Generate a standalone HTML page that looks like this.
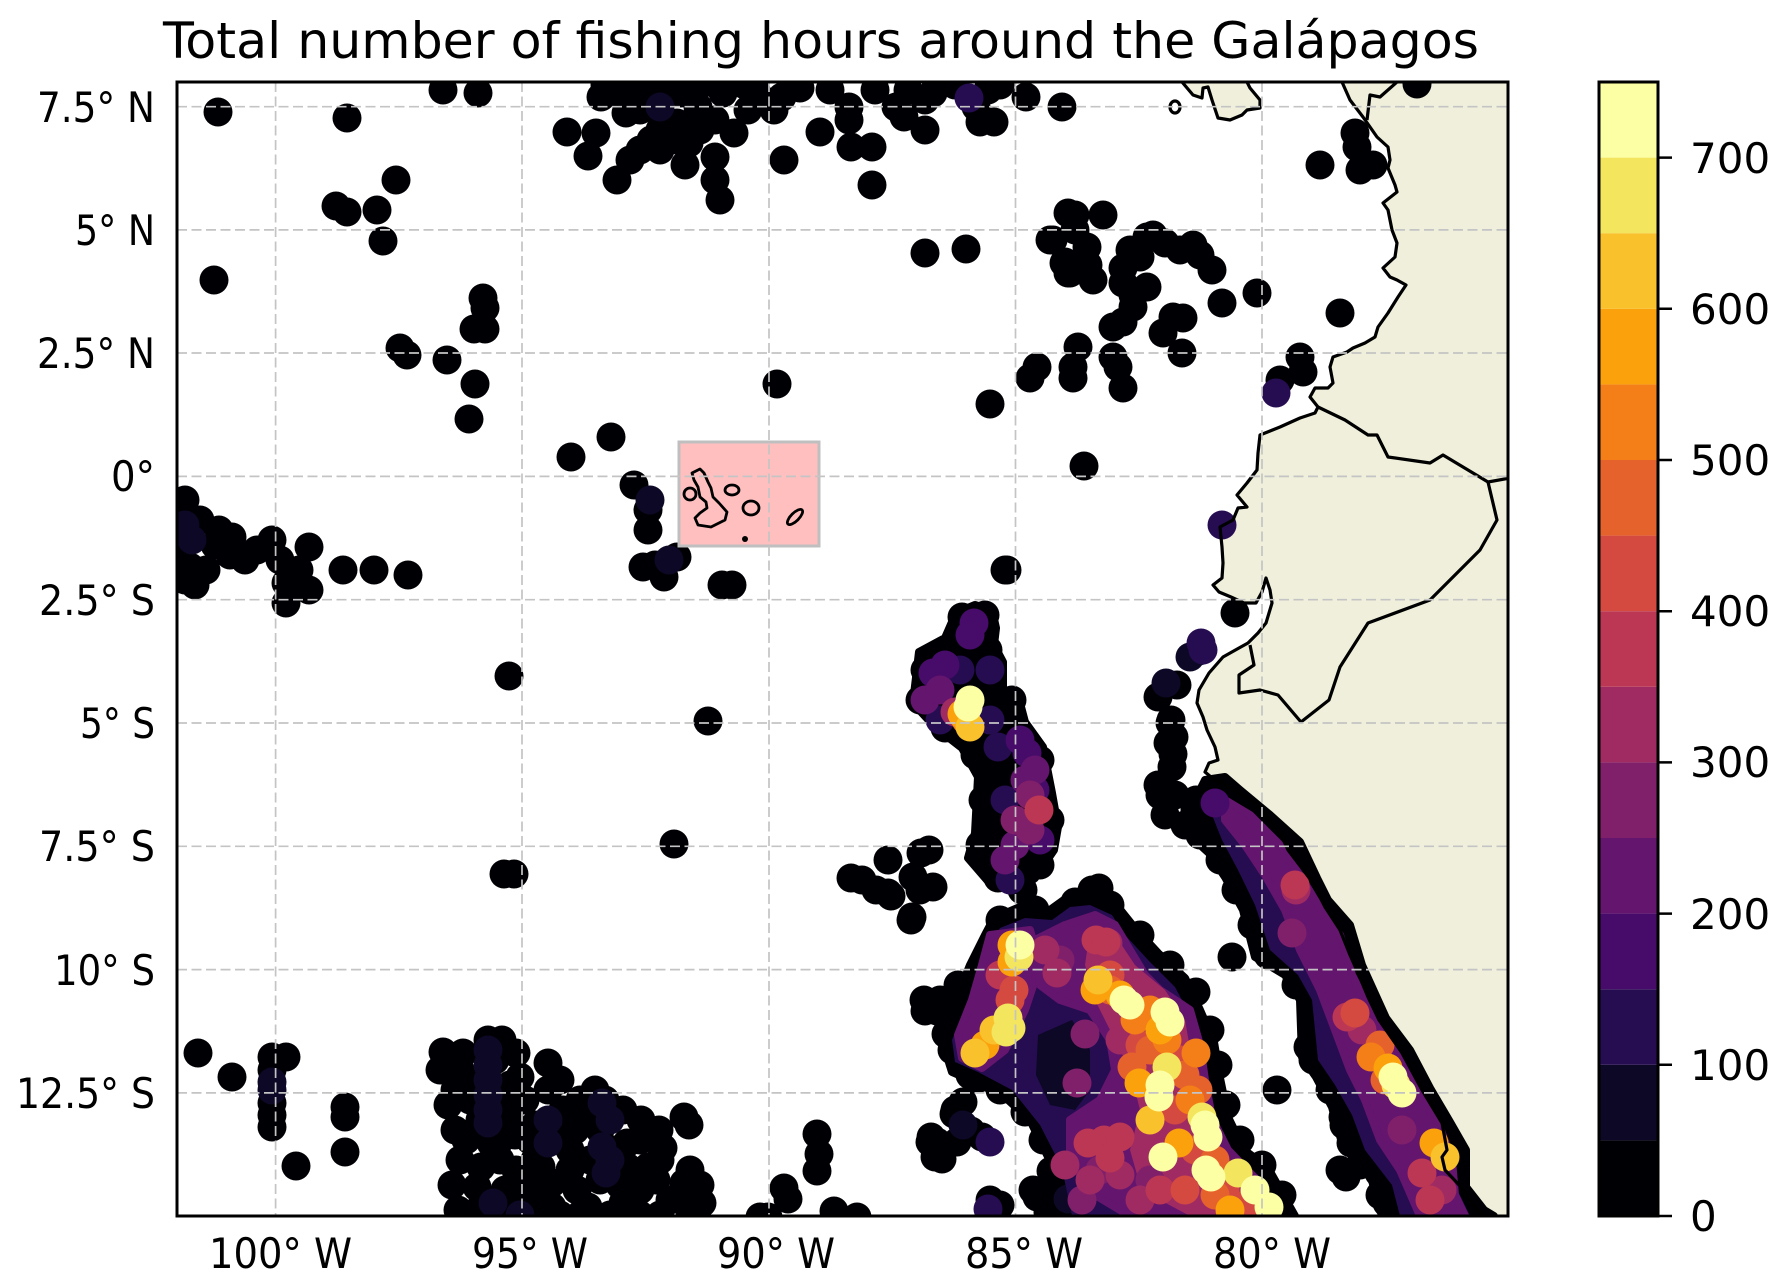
<!DOCTYPE html>
<html><head><meta charset="utf-8"><style>
html,body{margin:0;padding:0;background:#fff;}
svg{display:block;}
text{font-family:"DejaVu Sans","Liberation Sans",sans-serif;fill:#000;}
</style></head><body>
<svg width="1782" height="1286" viewBox="0 0 1782 1286" xmlns="http://www.w3.org/2000/svg">
<defs><clipPath id="ax"><rect x="177" y="82" width="1331" height="1134"/></clipPath></defs>
<rect x="0" y="0" width="1782" height="1286" fill="#fff"/>
<g clip-path="url(#ax)">
<!-- land -->
<path fill="#efefdb" d="M1342,82 L1350,100 L1363,117 L1377,137 L1388,147 L1390,160 L1388,168 L1395,185 L1397,192 L1383,203 L1388,210 L1392,230 L1397,243 L1395,257 L1383,268 L1390,277 L1397,280 L1406,285 L1398,297 L1388,313 L1378,327 L1375,337 L1365,343 L1353,348 L1347,352 L1333,357 L1330,367 L1333,383 L1328,388 L1315,388 L1310,397 L1318,407 L1315,413 L1300,418 L1280,427 L1260,435 L1258,453 L1257,470 L1247,483 L1237,495 L1247,507 L1238,508 L1233,520 L1220,527 L1222,547 L1223,563 L1222,578 L1213,585 L1219,592 L1231,597 L1244,603 L1256,603 L1262,592 L1266,578 L1270,590 L1272,603 L1266,623 L1258,633 L1248,643 L1239,648 L1223,657 L1209,673 L1199,690 L1197,703 L1203,717 L1207,730 L1215,747 L1218,760 L1209,763 L1205,772 L1211,777 L1235,790 L1256,803 L1272,823 L1282,837 L1288,850 L1301,867 L1313,883 L1325,907 L1340,930 L1350,955 L1358,973 L1368,997 L1379,1020 L1402,1053 L1422,1090 L1442,1123 L1447,1150 L1442,1157 L1445,1170 L1461,1187 L1477,1210 L1484,1216 L1508,1216 L1508,82 Z"/>
<path fill="#efefdb" d="M1182,82 L1193,95 L1202,98 L1203,88 L1208,87 L1212,100 L1218,118 L1230,120 L1242,115 L1247,110 L1260,108 L1260,100 L1250,88 L1247,82 Z"/>

<!-- blob hulls black -->
<g fill="#000004" stroke="#000004" stroke-width="8" stroke-linejoin="round">
<polygon points="994,918 1020,907 1050,910 1068,897 1090,895 1118,907 1134,927 1158,953 1185,978 1200,1010 1214,1042 1220,1078 1228,1117 1244,1150 1268,1168 1295,1216 1062,1216 1052,1165 1030,1120 1005,1097 975,1082 952,1072 942,1040 958,995 970,965 985,935"/>
<polygon points="1205,780 1225,777 1240,790 1270,815 1300,842 1317,878 1328,900 1350,925 1362,965 1386,1018 1410,1050 1430,1088 1450,1122 1466,1150 1466,1187 1484,1210 1494,1216 1382,1216 1371,1177 1342,1143 1332,1107 1316,1077 1302,1057 1300,1000 1285,975 1255,957 1243,910 1225,877 1209,853 1184,830 1192,810 1200,790"/>
<polygon points="958,612 975,605 992,610 996,628 994,645 1003,662 1003,690 1020,703 1025,722 1043,747 1052,793 1058,827 1054,850 1035,878 1015,893 987,880 968,858 975,833 978,777 962,748 935,727 913,703 919,652 945,638 952,622"/>
</g>
<!-- edge bumps -->
<g fill="#000004">
<circle cx="1196" cy="800" r="14.5"/><circle cx="1198" cy="830" r="14.5"/><circle cx="1220" cy="860" r="14.5"/><circle cx="1236" cy="890" r="14.5"/><circle cx="1252" cy="925" r="14.5"/><circle cx="1268" cy="955" r="14.5"/><circle cx="1296" cy="985" r="14.5"/><circle cx="1312" cy="1015" r="14.5"/><circle cx="1313" cy="1060" r="14.5"/><circle cx="1330" cy="1090" r="14.5"/><circle cx="1344" cy="1125" r="14.5"/><circle cx="1360" cy="1165" r="14.5"/><circle cx="1380" cy="1195" r="14.5"/>
<circle cx="958" cy="985" r="14.5"/><circle cx="952" cy="1050" r="14.5"/><circle cx="970" cy="1075" r="14.5"/><circle cx="1000" cy="1090" r="14.5"/><circle cx="1025" cy="1112" r="14.5"/><circle cx="1043" cy="1140" r="14.5"/><circle cx="1058" cy="1180" r="14.5"/><circle cx="1000" cy="920" r="14.5"/><circle cx="1035" cy="910" r="14.5"/><circle cx="1075" cy="902" r="14.5"/><circle cx="1110" cy="905" r="14.5"/><circle cx="1140" cy="935" r="14.5"/><circle cx="1170" cy="965" r="14.5"/><circle cx="1196" cy="992" r="14.5"/><circle cx="1210" cy="1030" r="14.5"/><circle cx="1218" cy="1065" r="14.5"/><circle cx="1226" cy="1105" r="14.5"/><circle cx="1240" cy="1140" r="14.5"/><circle cx="1262" cy="1165" r="14.5"/><circle cx="1282" cy="1195" r="14.5"/>
<circle cx="925" cy="670" r="14.5"/><circle cx="920" cy="700" r="14.5"/><circle cx="945" cy="728" r="14.5"/><circle cx="975" cy="755" r="14.5"/><circle cx="983" cy="800" r="14.5"/><circle cx="980" cy="845" r="14.5"/><circle cx="998" cy="878" r="14.5"/><circle cx="1040" cy="865" r="14.5"/><circle cx="1050" cy="820" r="14.5"/><circle cx="1040" cy="760" r="14.5"/><circle cx="1012" cy="700" r="14.5"/><circle cx="988" cy="650" r="14.5"/><circle cx="985" cy="615" r="14.5"/><circle cx="962" cy="617" r="14.5"/>
</g>

<!-- black dots -->
<g fill="#000004">
<circle cx="218" cy="112" r="14.5"/><circle cx="347" cy="118" r="14.5"/><circle cx="443" cy="90" r="14.5"/><circle cx="478" cy="93" r="14.5"/><circle cx="214" cy="280" r="14.5"/><circle cx="336" cy="206" r="14.5"/><circle cx="347" cy="212" r="14.5"/><circle cx="377" cy="210" r="14.5"/><circle cx="396" cy="180" r="14.5"/><circle cx="383" cy="241" r="14.5"/><circle cx="400" cy="348" r="14.5"/><circle cx="407" cy="355" r="14.5"/><circle cx="447" cy="360" r="14.5"/><circle cx="483" cy="298" r="14.5"/><circle cx="485" cy="308" r="14.5"/><circle cx="474" cy="329" r="14.5"/><circle cx="485" cy="329" r="14.5"/><circle cx="475" cy="384" r="14.5"/><circle cx="469" cy="419" r="14.5"/>
<circle cx="601" cy="97" r="14.5"/><circle cx="567" cy="132" r="14.5"/><circle cx="596" cy="133" r="14.5"/><circle cx="588" cy="156" r="14.5"/><circle cx="630" cy="160" r="14.5"/><circle cx="617" cy="180" r="14.5"/><circle cx="626" cy="113" r="14.5"/><circle cx="618" cy="93" r="14.5"/><circle cx="639" cy="90" r="14.5"/><circle cx="651" cy="140" r="14.5"/><circle cx="677" cy="123" r="14.5"/><circle cx="681" cy="93" r="14.5"/><circle cx="698" cy="107" r="14.5"/><circle cx="677" cy="140" r="14.5"/><circle cx="689" cy="143" r="14.5"/><circle cx="685" cy="165" r="14.5"/><circle cx="715" cy="157" r="14.5"/><circle cx="715" cy="180" r="14.5"/><circle cx="720" cy="200" r="14.5"/><circle cx="734" cy="133" r="14.5"/><circle cx="715" cy="120" r="14.5"/><circle cx="723" cy="93" r="14.5"/><circle cx="748" cy="110" r="14.5"/><circle cx="782" cy="97" r="14.5"/><circle cx="774" cy="110" r="14.5"/><circle cx="757" cy="93" r="14.5"/><circle cx="784" cy="160" r="14.5"/><circle cx="820" cy="132" r="14.5"/><circle cx="849" cy="107" r="14.5"/><circle cx="849" cy="120" r="14.5"/><circle cx="851" cy="147" r="14.5"/><circle cx="872" cy="147" r="14.5"/><circle cx="872" cy="185" r="14.5"/><circle cx="875" cy="90" r="14.5"/><circle cx="896" cy="107" r="14.5"/><circle cx="904" cy="117" r="14.5"/><circle cx="925" cy="130" r="14.5"/><circle cx="925" cy="100" r="14.5"/><circle cx="908" cy="90" r="14.5"/><circle cx="933" cy="93" r="14.5"/><circle cx="980" cy="122" r="14.5"/><circle cx="994" cy="122" r="14.5"/><circle cx="976" cy="107" r="14.5"/><circle cx="988" cy="90" r="14.5"/><circle cx="1026" cy="97" r="14.5"/><circle cx="1062" cy="107" r="14.5"/><circle cx="925" cy="253" r="14.5"/><circle cx="966" cy="249" r="14.5"/><circle cx="1068" cy="213" r="14.5"/><circle cx="1053" cy="240" r="14.5"/><circle cx="1064" cy="263" r="14.5"/><circle cx="1068" cy="273" r="14.5"/><circle cx="640" cy="110" r="14.5"/><circle cx="660" cy="130" r="14.5"/><circle cx="700" cy="130" r="14.5"/><circle cx="605" cy="85" r="14.5"/><circle cx="660" cy="85" r="14.5"/><circle cx="700" cy="85" r="14.5"/><circle cx="745" cy="85" r="14.5"/><circle cx="800" cy="88" r="14.5"/><circle cx="830" cy="90" r="14.5"/><circle cx="640" cy="150" r="14.5"/><circle cx="660" cy="150" r="14.5"/><circle cx="1000" cy="85" r="14.5"/><circle cx="955" cy="85" r="14.5"/>
<circle cx="1075" cy="215" r="14.5"/><circle cx="1103" cy="215" r="14.5"/><circle cx="1050" cy="240" r="14.5"/><circle cx="1065" cy="262" r="14.5"/><circle cx="1070" cy="273" r="14.5"/><circle cx="1087" cy="247" r="14.5"/><circle cx="1088" cy="265" r="14.5"/><circle cx="1093" cy="280" r="14.5"/><circle cx="1123" cy="268" r="14.5"/><circle cx="1123" cy="283" r="14.5"/><circle cx="1147" cy="237" r="14.5"/><circle cx="1153" cy="235" r="14.5"/><circle cx="1140" cy="257" r="14.5"/><circle cx="1147" cy="287" r="14.5"/><circle cx="1133" cy="307" r="14.5"/><circle cx="1123" cy="322" r="14.5"/><circle cx="1113" cy="327" r="14.5"/><circle cx="1180" cy="250" r="14.5"/><circle cx="1193" cy="245" r="14.5"/><circle cx="1200" cy="255" r="14.5"/><circle cx="1212" cy="270" r="14.5"/><circle cx="1222" cy="303" r="14.5"/><circle cx="1257" cy="293" r="14.5"/><circle cx="1340" cy="313" r="14.5"/><circle cx="1173" cy="317" r="14.5"/><circle cx="1183" cy="318" r="14.5"/><circle cx="1163" cy="333" r="14.5"/><circle cx="1182" cy="353" r="14.5"/><circle cx="1078" cy="347" r="14.5"/><circle cx="1073" cy="367" r="14.5"/><circle cx="1073" cy="378" r="14.5"/><circle cx="1037" cy="367" r="14.5"/><circle cx="1030" cy="378" r="14.5"/><circle cx="1113" cy="357" r="14.5"/><circle cx="1118" cy="367" r="14.5"/><circle cx="1123" cy="388" r="14.5"/><circle cx="1300" cy="357" r="14.5"/><circle cx="1303" cy="372" r="14.5"/><circle cx="1280" cy="380" r="14.5"/><circle cx="1084" cy="466" r="14.5"/><circle cx="1007" cy="570" r="14.5"/><circle cx="990" cy="404" r="14.5"/><circle cx="1133" cy="295" r="14.5"/><circle cx="1165" cy="243" r="14.5"/><circle cx="1130" cy="250" r="14.5"/><circle cx="1075" cy="230" r="14.5"/>
<circle cx="1320" cy="165" r="14.5"/><circle cx="1355" cy="133" r="14.5"/><circle cx="1357" cy="147" r="14.5"/><circle cx="1360" cy="170" r="14.5"/><circle cx="1373" cy="165" r="14.5"/><circle cx="1417" cy="84" r="14.5"/>
<circle cx="571" cy="457" r="14.5"/><circle cx="611" cy="437" r="14.5"/><circle cx="777" cy="384" r="14.5"/><circle cx="509" cy="676" r="14.5"/><circle cx="708" cy="721" r="14.5"/><circle cx="674" cy="844" r="14.5"/><circle cx="504" cy="874" r="14.5"/><circle cx="514" cy="874" r="14.5"/><circle cx="722" cy="585" r="14.5"/><circle cx="732" cy="585" r="14.5"/><circle cx="634" cy="485" r="14.5"/><circle cx="648" cy="510" r="14.5"/><circle cx="648" cy="530" r="14.5"/><circle cx="643" cy="567" r="14.5"/><circle cx="664" cy="577" r="14.5"/><circle cx="677" cy="557" r="14.5"/><circle cx="655" cy="565" r="14.5"/>
<circle cx="185" cy="500" r="14.5"/><circle cx="190" cy="567" r="14.5"/><circle cx="206" cy="570" r="14.5"/><circle cx="219" cy="530" r="14.5"/><circle cx="232" cy="537" r="14.5"/><circle cx="257" cy="550" r="14.5"/><circle cx="272" cy="540" r="14.5"/><circle cx="286" cy="583" r="14.5"/><circle cx="286" cy="603" r="14.5"/><circle cx="309" cy="547" r="14.5"/><circle cx="309" cy="590" r="14.5"/><circle cx="299" cy="570" r="14.5"/><circle cx="343" cy="570" r="14.5"/><circle cx="374" cy="570" r="14.5"/><circle cx="408" cy="575" r="14.5"/><circle cx="180" cy="520" r="14.5"/><circle cx="180" cy="545" r="14.5"/><circle cx="195" cy="585" r="14.5"/><circle cx="215" cy="545" r="14.5"/><circle cx="245" cy="560" r="14.5"/><circle cx="280" cy="560" r="14.5"/><circle cx="200" cy="520" r="14.5"/><circle cx="230" cy="555" r="14.5"/><circle cx="185" cy="580" r="14.5"/>
<circle cx="1005" cy="570" r="14.5"/><circle cx="888" cy="860" r="14.5"/><circle cx="921" cy="853" r="14.5"/><circle cx="929" cy="850" r="14.5"/><circle cx="913" cy="877" r="14.5"/><circle cx="933" cy="887" r="14.5"/><circle cx="888" cy="893" r="14.5"/><circle cx="911" cy="920" r="14.5"/><circle cx="851" cy="878" r="14.5"/><circle cx="862" cy="880" r="14.5"/><circle cx="876" cy="890" r="14.5"/><circle cx="891" cy="896" r="14.5"/><circle cx="1023" cy="890" r="14.5"/><circle cx="1099" cy="888" r="14.5"/>
<circle cx="1235" cy="613" r="14.5"/><circle cx="1158" cy="697" r="14.5"/><circle cx="1170" cy="723" r="14.5"/><circle cx="1168" cy="743" r="14.5"/><circle cx="1172" cy="767" r="14.5"/><circle cx="1177" cy="685" r="14.5"/><circle cx="1171" cy="720" r="14.5"/><circle cx="1174" cy="737" r="14.5"/><circle cx="1173" cy="754" r="14.5"/>
<circle cx="1160" cy="795" r="14.5"/><circle cx="1175" cy="795" r="14.5"/><circle cx="1165" cy="815" r="14.5"/><circle cx="1185" cy="825" r="14.5"/><circle cx="1195" cy="810" r="14.5"/><circle cx="1200" cy="835" r="14.5"/><circle cx="1158" cy="785" r="14.5"/>
<circle cx="912" cy="917" r="14.5"/><circle cx="924" cy="1000" r="14.5"/><circle cx="951" cy="1010" r="14.5"/><circle cx="931" cy="1137" r="14.5"/><circle cx="955" cy="1110" r="14.5"/><circle cx="982" cy="1137" r="14.5"/><circle cx="935" cy="1157" r="14.5"/><circle cx="990" cy="1200" r="14.5"/><circle cx="1033" cy="1190" r="14.5"/><circle cx="1061" cy="1193" r="14.5"/><circle cx="1096" cy="1203" r="14.5"/><circle cx="1022" cy="890" r="14.5"/><circle cx="1092" cy="890" r="14.5"/><circle cx="920" cy="890" r="14.5"/><circle cx="925" cy="1011" r="14.5"/><circle cx="937" cy="1011" r="14.5"/><circle cx="946" cy="1034" r="14.5"/><circle cx="960" cy="1062" r="14.5"/><circle cx="930" cy="1142" r="14.5"/><circle cx="937" cy="1142" r="14.5"/><circle cx="942" cy="1159" r="14.5"/><circle cx="957" cy="1142" r="14.5"/><circle cx="971" cy="1131" r="14.5"/><circle cx="1000" cy="1205" r="14.5"/><circle cx="1037" cy="1197" r="14.5"/><circle cx="1051" cy="1171" r="14.5"/><circle cx="954" cy="1114" r="14.5"/><circle cx="963" cy="1102" r="14.5"/><circle cx="1048" cy="1212" r="14.5"/><circle cx="940" cy="1000" r="14.5"/><circle cx="977" cy="1079" r="14.5"/>
<circle cx="1232" cy="957" r="14.5"/><circle cx="1277" cy="1090" r="14.5"/><circle cx="1308" cy="1047" r="14.5"/><circle cx="1343" cy="1117" r="14.5"/><circle cx="1340" cy="1170" r="14.5"/><circle cx="1351" cy="1143" r="14.5"/><circle cx="1379" cy="1173" r="14.5"/><circle cx="1387" cy="1203" r="14.5"/><circle cx="1346" cy="1177" r="14.5"/><circle cx="1391" cy="1205" r="14.5"/>
<circle cx="198" cy="1053" r="14.5"/><circle cx="232" cy="1077" r="14.5"/><circle cx="272" cy="1057" r="14.5"/><circle cx="286" cy="1057" r="14.5"/><circle cx="272" cy="1070" r="14.5"/><circle cx="272" cy="1103" r="14.5"/><circle cx="272" cy="1115" r="14.5"/><circle cx="272" cy="1127" r="14.5"/><circle cx="345" cy="1107" r="14.5"/><circle cx="345" cy="1117" r="14.5"/><circle cx="345" cy="1152" r="14.5"/><circle cx="296" cy="1166" r="14.5"/>
<circle cx="443" cy="1052" r="14.5"/><circle cx="463" cy="1053" r="14.5"/><circle cx="488" cy="1040" r="14.5"/><circle cx="502" cy="1040" r="14.5"/><circle cx="516" cy="1053" r="14.5"/><circle cx="470" cy="1080" r="14.5"/><circle cx="448" cy="1105" r="14.5"/><circle cx="520" cy="1077" r="14.5"/><circle cx="509" cy="1117" r="14.5"/><circle cx="466" cy="1140" r="14.5"/><circle cx="491" cy="1143" r="14.5"/><circle cx="481" cy="1167" r="14.5"/><circle cx="477" cy="1187" r="14.5"/><circle cx="481" cy="1207" r="14.5"/><circle cx="516" cy="1170" r="14.5"/><circle cx="520" cy="1207" r="14.5"/><circle cx="548" cy="1063" r="14.5"/><circle cx="548" cy="1090" r="14.5"/><circle cx="541" cy="1167" r="14.5"/><circle cx="552" cy="1183" r="14.5"/><circle cx="552" cy="1207" r="14.5"/><circle cx="563" cy="1110" r="14.5"/><circle cx="595" cy="1090" r="14.5"/><circle cx="623" cy="1110" r="14.5"/><circle cx="627" cy="1143" r="14.5"/><circle cx="627" cy="1167" r="14.5"/><circle cx="623" cy="1203" r="14.5"/><circle cx="648" cy="1167" r="14.5"/><circle cx="656" cy="1180" r="14.5"/><circle cx="659" cy="1130" r="14.5"/><circle cx="684" cy="1117" r="14.5"/><circle cx="684" cy="1183" r="14.5"/><circle cx="702" cy="1203" r="14.5"/><circle cx="641" cy="1120" r="14.5"/><circle cx="577" cy="1190" r="14.5"/><circle cx="588" cy="1207" r="14.5"/><circle cx="455" cy="1130" r="14.5"/><circle cx="500" cy="1100" r="14.5"/><circle cx="530" cy="1140" r="14.5"/><circle cx="570" cy="1150" r="14.5"/><circle cx="600" cy="1180" r="14.5"/><circle cx="640" cy="1190" r="14.5"/><circle cx="470" cy="1215" r="14.5"/><circle cx="500" cy="1215" r="14.5"/><circle cx="530" cy="1215" r="14.5"/><circle cx="560" cy="1215" r="14.5"/><circle cx="610" cy="1215" r="14.5"/><circle cx="660" cy="1215" r="14.5"/><circle cx="575" cy="1130" r="14.5"/><circle cx="590" cy="1160" r="14.5"/><circle cx="505" cy="1190" r="14.5"/><circle cx="530" cy="1185" r="14.5"/><circle cx="500" cy="1160" r="14.5"/><circle cx="480" cy="1120" r="14.5"/>
<circle cx="440" cy="1070" r="14.5"/><circle cx="455" cy="1090" r="14.5"/><circle cx="460" cy="1160" r="14.5"/><circle cx="452" cy="1185" r="14.5"/><circle cx="458" cy="1210" r="14.5"/><circle cx="495" cy="1060" r="14.5"/><circle cx="510" cy="1085" r="14.5"/><circle cx="525" cy="1100" r="14.5"/><circle cx="535" cy="1125" r="14.5"/><circle cx="515" cy="1135" r="14.5"/><circle cx="500" cy="1140" r="14.5"/><circle cx="560" cy="1080" r="14.5"/><circle cx="580" cy="1100" r="14.5"/><circle cx="585" cy="1120" r="14.5"/><circle cx="570" cy="1170" r="14.5"/><circle cx="545" cy="1195" r="14.5"/><circle cx="600" cy="1130" r="14.5"/><circle cx="615" cy="1150" r="14.5"/><circle cx="620" cy="1185" r="14.5"/><circle cx="640" cy="1140" r="14.5"/><circle cx="660" cy="1160" r="14.5"/><circle cx="670" cy="1200" r="14.5"/><circle cx="690" cy="1170" r="14.5"/><circle cx="700" cy="1185" r="14.5"/><circle cx="580" cy="1215" r="14.5"/><circle cx="640" cy="1215" r="14.5"/><circle cx="690" cy="1215" r="14.5"/><circle cx="560" cy="1140" r="14.5"/><circle cx="605" cy="1100" r="14.5"/><circle cx="535" cy="1160" r="14.5"/><circle cx="470" cy="1100" r="14.5"/><circle cx="460" cy="1070" r="14.5"/>
<circle cx="689" cy="1125" r="14.5"/><circle cx="663" cy="1148" r="14.5"/><circle cx="693" cy="1199" r="14.5"/><circle cx="784" cy="1188" r="14.5"/><circle cx="788" cy="1199" r="14.5"/><circle cx="768" cy="1217" r="14.5"/><circle cx="817" cy="1134" r="14.5"/><circle cx="819" cy="1154" r="14.5"/><circle cx="817" cy="1171" r="14.5"/><circle cx="834" cy="1211" r="14.5"/><circle cx="857" cy="1217" r="14.5"/><circle cx="760" cy="1217" r="14.5"/>
</g>
<!-- k1 -->
<g fill="#0c0826">
<circle cx="660" cy="107" r="14.5"/><circle cx="650" cy="500" r="14.5"/><circle cx="669" cy="560" r="14.5"/><circle cx="192" cy="540" r="14.5"/><circle cx="185" cy="525" r="14.5"/>
<circle cx="1190" cy="657" r="14.5"/><circle cx="1166" cy="683" r="14.5"/><circle cx="1199" cy="651" r="14.5"/><circle cx="1068" cy="1199" r="14.5"/><circle cx="963" cy="1125" r="14.5"/>
<circle cx="272" cy="1082" r="14.5"/><circle cx="272" cy="1090" r="14.5"/>
<circle cx="488" cy="1050" r="14.5"/><circle cx="488" cy="1065" r="14.5"/><circle cx="488" cy="1080" r="14.5"/><circle cx="488" cy="1095" r="14.5"/><circle cx="488" cy="1110" r="14.5"/><circle cx="488" cy="1123" r="14.5"/><circle cx="548" cy="1120" r="14.5"/><circle cx="548" cy="1143" r="14.5"/><circle cx="602" cy="1103" r="14.5"/><circle cx="602" cy="1147" r="14.5"/><circle cx="606" cy="1173" r="14.5"/><circle cx="493" cy="1203" r="14.5"/><circle cx="610" cy="1120" r="14.5"/><circle cx="610" cy="1160" r="14.5"/><circle cx="520" cy="1215" r="14.5"/>
</g>
<!-- blob interiors -->
<polygon fill="#260c51" points="1000,928 1025,918 1052,920 1070,907 1090,905 1112,915 1125,935 1150,962 1175,987 1190,1015 1203,1045 1208,1080 1216,1118 1232,1152 1258,1175 1280,1216 1072,1216 1062,1168 1040,1125 1012,1090 978,1072 955,1062 952,1040 968,1000 980,968 992,942"/>
<polygon fill="#260c51" points="1215,790 1240,805 1265,832 1290,858 1305,892 1330,925 1345,965 1368,1015 1395,1050 1415,1088 1437,1122 1452,1152 1455,1185 1470,1216 1400,1216 1392,1185 1365,1150 1352,1115 1335,1085 1318,1060 1312,1000 1298,975 1270,950 1255,905 1238,870 1222,840 1210,810"/>
<g fill="#64156e" stroke="#64156e" stroke-width="8" stroke-linejoin="round">
<polygon points="990,935 1030,930 1040,965 1025,1010 1005,1050 982,1068 962,1058 958,1035 972,1000 982,965"/>
<polygon points="1035,940 1065,925 1095,915 1115,925 1130,950 1145,975 1160,990 1190,1010 1200,1045 1205,1080 1212,1118 1228,1150 1255,1178 1270,1216 1130,1216 1095,1195 1070,1160 1070,1120 1100,1100 1115,1070 1110,1040 1090,1010 1060,1000 1040,985"/>
<polygon points="1225,800 1250,815 1280,845 1300,875 1318,905 1340,935 1352,975 1375,1020 1400,1055 1420,1092 1440,1128 1452,1160 1455,1195 1465,1216 1420,1216 1400,1170 1380,1140 1365,1100 1350,1070 1335,1030 1320,990 1300,950 1285,910 1265,875 1245,845 1225,820"/>
</g>
<polygon fill="#0c0826" points="1038,1035 1072,1020 1090,1050 1090,1090 1075,1110 1050,1105 1036,1075"/>
<polygon fill="#9f2b62" points="1090,930 1115,935 1135,965 1165,990 1185,1020 1192,1060 1195,1100 1205,1135 1228,1165 1250,1190 1262,1216 1190,1216 1160,1200 1140,1185 1130,1150 1140,1110 1130,1070 1110,1030 1095,1000 1085,965"/>
<!-- chain purples -->
<g fill="#260c51"><circle cx="960" cy="670" r="14.5"/><circle cx="990" cy="670" r="14.5"/><circle cx="998" cy="747" r="14.5"/><circle cx="990" cy="720" r="14.5"/><circle cx="1010" cy="880" r="14.5"/><circle cx="1201" cy="643" r="14.5"/><circle cx="1203" cy="650" r="14.5"/><circle cx="1276" cy="393" r="14.5"/><circle cx="1222" cy="525" r="14.5"/><circle cx="969" cy="98" r="14.5"/><circle cx="990" cy="1142" r="14.5"/><circle cx="988" cy="1209" r="14.5"/><circle cx="940" cy="720" r="14.5"/><circle cx="1005" cy="800" r="14.5"/></g>
<g fill="#470b6a"><circle cx="974" cy="623" r="14.5"/><circle cx="970" cy="635" r="14.5"/><circle cx="933" cy="673" r="14.5"/><circle cx="945" cy="665" r="14.5"/><circle cx="1027" cy="753" r="14.5"/><circle cx="1020" cy="740" r="14.5"/><circle cx="1040" cy="840" r="14.5"/><circle cx="1035" cy="790" r="14.5"/><circle cx="1215" cy="803" r="14.5"/></g>
<g fill="#64156e"><circle cx="925" cy="700" r="14.5"/><circle cx="940" cy="690" r="14.5"/><circle cx="1025" cy="780" r="14.5"/><circle cx="1035" cy="770" r="14.5"/><circle cx="1005" cy="860" r="14.5"/><circle cx="1015" cy="845" r="14.5"/></g>
<g fill="#81206a"><circle cx="1030" cy="795" r="14.5"/><circle cx="1015" cy="820" r="14.5"/><circle cx="1030" cy="830" r="14.5"/><circle cx="1292" cy="933" r="14.5"/><circle cx="1402" cy="1130" r="14.5"/><circle cx="1077" cy="1083" r="14.5"/><circle cx="1085" cy="1034" r="14.5"/><circle cx="1060" cy="960" r="14.5"/><circle cx="1150" cy="1180" r="14.5"/><circle cx="1100" cy="1170" r="14.5"/><circle cx="1082" cy="1200" r="14.5"/></g>
<g fill="#9f2b62"><circle cx="1296" cy="890" r="14.5"/><circle cx="1442" cy="1190" r="14.5"/><circle cx="1362" cy="1030" r="14.5"/><circle cx="1108" cy="943" r="14.5"/><circle cx="1057" cy="973" r="14.5"/><circle cx="1120" cy="1040" r="14.5"/><circle cx="1140" cy="1200" r="14.5"/><circle cx="1045" cy="950" r="14.5"/><circle cx="955" cy="712" r="14.5"/><circle cx="1065" cy="1165" r="14.5"/><circle cx="1090" cy="1180" r="14.5"/><circle cx="1120" cy="1175" r="14.5"/></g>
<g fill="#bc3754"><circle cx="1039" cy="810" r="14.5"/><circle cx="1295" cy="885" r="14.5"/><circle cx="1347" cy="1017" r="14.5"/><circle cx="1422" cy="1173" r="14.5"/><circle cx="1430" cy="1200" r="14.5"/><circle cx="1096" cy="940" r="14.5"/><circle cx="1104" cy="1140" r="14.5"/><circle cx="1120" cy="1137" r="14.5"/><circle cx="1088" cy="1143" r="14.5"/><circle cx="1160" cy="1190" r="14.5"/><circle cx="1106" cy="942" r="14.5"/><circle cx="1000" cy="975" r="14.5"/><circle cx="1110" cy="1158" r="14.5"/></g>
<g fill="#d44a41"><circle cx="1355" cy="1013" r="14.5"/><circle cx="1014" cy="990" r="14.5"/><circle cx="1185" cy="1190" r="14.5"/><circle cx="1010" cy="1000" r="14.5"/><circle cx="1110" cy="975" r="14.5"/><circle cx="1140" cy="1045" r="14.5"/><circle cx="1180" cy="1060" r="14.5"/><circle cx="1175" cy="1110" r="14.5"/><circle cx="1195" cy="1150" r="14.5"/><circle cx="1225" cy="1190" r="14.5"/><circle cx="1245" cy="1205" r="14.5"/></g>
<g fill="#e6622c"><circle cx="1380" cy="1045" r="14.5"/><circle cx="1132" cy="1067" r="14.5"/><circle cx="1198" cy="1090" r="14.5"/><circle cx="1215" cy="1195" r="14.5"/><circle cx="1110" cy="990" r="14.5"/><circle cx="1385" cy="1080" r="14.5"/><circle cx="1150" cy="1050" r="14.5"/><circle cx="1185" cy="1075" r="14.5"/><circle cx="1215" cy="1160" r="14.5"/></g>
<g fill="#f47e17"><circle cx="1371" cy="1057" r="14.5"/><circle cx="1150" cy="1010" r="14.5"/><circle cx="1167" cy="1040" r="14.5"/><circle cx="1196" cy="1053" r="14.5"/><circle cx="1190" cy="1100" r="14.5"/><circle cx="1135" cy="1020" r="14.5"/><circle cx="966" cy="720" r="14.5"/></g>
<g fill="#fba10c"><circle cx="1434" cy="1143" r="14.5"/><circle cx="1388" cy="1068" r="14.5"/><circle cx="962" cy="714" r="14.5"/><circle cx="1012" cy="945" r="14.5"/><circle cx="1012" cy="962" r="14.5"/><circle cx="985" cy="1045" r="14.5"/><circle cx="1095" cy="990" r="14.5"/><circle cx="1139" cy="1083" r="14.5"/><circle cx="1179" cy="1143" r="14.5"/><circle cx="1230" cy="1210" r="14.5"/><circle cx="1120" cy="995" r="14.5"/><circle cx="1160" cy="1030" r="14.5"/></g>
<g fill="#f9c12c"><circle cx="1445" cy="1157" r="14.5"/><circle cx="970" cy="727" r="14.5"/><circle cx="994" cy="1030" r="14.5"/><circle cx="975" cy="1053" r="14.5"/><circle cx="1098" cy="980" r="14.5"/><circle cx="1150" cy="1120" r="14.5"/></g>
<g fill="#f3e55d"><circle cx="1396" cy="1085" r="14.5"/><circle cx="1019" cy="957" r="14.5"/><circle cx="1008" cy="1018" r="14.5"/><circle cx="1006" cy="1032" r="14.5"/><circle cx="1167" cy="1067" r="14.5"/><circle cx="1202" cy="1117" r="14.5"/><circle cx="1238" cy="1173" r="14.5"/><circle cx="1011" cy="1028" r="14.5"/></g>
<g fill="#fcffa4"><circle cx="1020" cy="945" r="14.5"/><circle cx="968" cy="707" r="14.5"/><circle cx="970" cy="700" r="14.5"/><circle cx="1393" cy="1077" r="14.5"/><circle cx="1402" cy="1093" r="14.5"/><circle cx="1124" cy="1000" r="14.5"/><circle cx="1130" cy="1005" r="14.5"/><circle cx="1165" cy="1012" r="14.5"/><circle cx="1170" cy="1022" r="14.5"/><circle cx="1159" cy="1097" r="14.5"/><circle cx="1160" cy="1085" r="14.5"/><circle cx="1208" cy="1137" r="14.5"/><circle cx="1205" cy="1125" r="14.5"/><circle cx="1163" cy="1157" r="14.5"/><circle cx="1206" cy="1170" r="14.5"/><circle cx="1255" cy="1190" r="14.5"/><circle cx="1269" cy="1207" r="14.5"/><circle cx="1211" cy="1177" r="14.5"/></g>

<!-- coastlines & borders -->
<g fill="none" stroke="#000" stroke-width="3.2" stroke-linejoin="round">
<path d="M1342,82 L1350,100 L1363,117 L1377,137 L1388,147 L1390,160 L1388,168 L1395,185 L1397,192 L1383,203 L1388,210 L1392,230 L1397,243 L1395,257 L1383,268 L1390,277 L1397,280 L1406,285 L1398,297 L1388,313 L1378,327 L1375,337 L1365,343 L1353,348 L1347,352 L1333,357 L1330,367 L1333,383 L1328,388 L1315,388 L1310,397 L1318,407 L1315,413 L1300,418 L1280,427 L1260,435 L1258,453 L1257,470 L1247,483 L1237,495 L1247,507 L1238,508 L1233,520 L1220,527 L1222,547 L1223,563 L1222,578 L1213,585 L1219,592 L1231,597 L1244,603 L1256,603 L1262,592 L1266,578 L1270,590 L1272,603 L1266,623 L1258,633 L1248,643 L1239,648 L1223,657 L1209,673 L1199,690 L1197,703 L1203,717 L1207,730 L1215,747 L1218,760 L1209,763 L1205,772 L1211,777 L1235,790 L1256,803 L1272,823 L1282,837 L1288,850 L1301,867 L1313,883 L1325,907 L1340,930 L1350,955 L1358,973 L1368,997 L1379,1020 L1402,1053 L1422,1090 L1442,1123 L1447,1150 L1442,1157 L1445,1170 L1461,1187 L1477,1210 L1484,1216"/>
<path d="M1182,82 L1193,95 L1202,98 L1203,88 L1208,87 L1212,100 L1218,118 L1230,120 L1242,115 L1247,110 L1260,108 L1260,100 L1250,88 L1247,82"/>
<ellipse cx="1175" cy="107" rx="5" ry="6"/>
<path d="M1397,82 L1380,97 L1370,95 L1367,120"/>
<path d="M1318,407 L1345,420 L1368,435 L1377,435 L1388,457 L1430,463 L1443,455 L1488,482 L1510,478"/>
<path d="M1488,482 L1497,520 L1480,550 L1430,600 L1368,623 L1340,667 L1329,700 L1301,722 L1278,695 L1260,690 L1239,693 L1239,675 L1254,665 L1250,645"/>
</g>
<!-- Galapagos box -->
<rect x="679" y="442" width="140" height="104" fill="#ffbfbf" stroke="#bfbfbf" stroke-width="3"/>
<g fill="none" stroke="#000" stroke-width="2.8" stroke-linejoin="round">
<path d="M694,480 L692,473 L700,469 L704,473 L708,482 L711,488 L713,497 L719,503 L727,512 L725,520 L711,527 L698,525 L695,518 L700,513 L707,508 L706,502 L700,497 L698,487 Z"/>
<ellipse cx="690" cy="494" rx="6" ry="6"/>
<ellipse cx="732" cy="490" rx="7" ry="5"/>
<ellipse cx="751" cy="508" rx="8" ry="7"/>
<ellipse cx="795" cy="517" rx="10" ry="4" transform="rotate(-45 795 517)"/>
</g>
<circle cx="745" cy="539" r="3" fill="#000"/>
<!-- gridlines -->
<g stroke="#c4c4c4" stroke-width="1.7" stroke-dasharray="10 4.5" fill="none">
<path d="M275.6,82 V1216 M522,82 V1216 M769,82 V1216 M1015.5,82 V1216 M1262,82 V1216"/>
<path d="M177,106.7 H1508 M177,229.9 H1508 M177,353 H1508 M177,476.4 H1508 M177,599.7 H1508 M177,723 H1508 M177,846.3 H1508 M177,969.6 H1508 M177,1092.9 H1508"/>
</g>
</g>
<!-- axes frame -->
<rect x="177" y="82" width="1331" height="1134" fill="none" stroke="#000" stroke-width="3"/>

<!-- colorbar -->
<g>
<rect x="1599" y="1140.4" width="59" height="75.6" fill="#000004"/>
<rect x="1599" y="1064.8" width="59" height="75.6" fill="#0c0826"/>
<rect x="1599" y="989.2" width="59" height="75.6" fill="#260c51"/>
<rect x="1599" y="913.6" width="59" height="75.6" fill="#470b6a"/>
<rect x="1599" y="838" width="59" height="75.6" fill="#64156e"/>
<rect x="1599" y="762.4" width="59" height="75.6" fill="#81206a"/>
<rect x="1599" y="686.8" width="59" height="75.6" fill="#9f2b62"/>
<rect x="1599" y="611.2" width="59" height="75.6" fill="#bc3754"/>
<rect x="1599" y="535.6" width="59" height="75.6" fill="#d44a41"/>
<rect x="1599" y="460" width="59" height="75.6" fill="#e6622c"/>
<rect x="1599" y="384.4" width="59" height="75.6" fill="#f47e17"/>
<rect x="1599" y="308.8" width="59" height="75.6" fill="#fba10c"/>
<rect x="1599" y="233.2" width="59" height="75.6" fill="#f9c12c"/>
<rect x="1599" y="157.6" width="59" height="75.6" fill="#f3e55d"/>
<rect x="1599" y="82" width="59" height="75.6" fill="#fcffa4"/>
<rect x="1599" y="82" width="59" height="1134" fill="none" stroke="#000" stroke-width="3"/>
<path d="M1658,1216 H1672 M1658,1064.8 H1672 M1658,913.6 H1672 M1658,762.4 H1672 M1658,611.2 H1672 M1658,460 H1672 M1658,308.8 H1672 M1658,157.6 H1672" stroke="#000" stroke-width="2.5"/>
</g>
<g font-size="42">
<text x="1690" y="1231">0</text>
<text x="1690" y="1080">100</text>
<text x="1690" y="929">200</text>
<text x="1690" y="777">300</text>
<text x="1690" y="626">400</text>
<text x="1690" y="475">500</text>
<text x="1690" y="324">600</text>
<text x="1690" y="173">700</text>
</g>

<!-- title -->
<text x="163" y="58" font-size="50" textLength="1316" lengthAdjust="spacingAndGlyphs">Total number of fishing hours around the Galápagos</text>

<!-- y labels -->
<g font-size="42">
<text x="37" y="122" textLength="118" lengthAdjust="spacingAndGlyphs">7.5° N</text>
<text x="75" y="245" textLength="80" lengthAdjust="spacingAndGlyphs">5° N</text>
<text x="37" y="368" textLength="118" lengthAdjust="spacingAndGlyphs">2.5° N</text>
<text x="111" y="491" textLength="44" lengthAdjust="spacingAndGlyphs">0°</text>
<text x="39" y="615" textLength="116" lengthAdjust="spacingAndGlyphs">2.5° S</text>
<text x="80" y="738" textLength="75" lengthAdjust="spacingAndGlyphs">5° S</text>
<text x="39" y="861" textLength="116" lengthAdjust="spacingAndGlyphs">7.5° S</text>
<text x="54" y="985" textLength="101" lengthAdjust="spacingAndGlyphs">10° S</text>
<text x="16" y="1108" textLength="139" lengthAdjust="spacingAndGlyphs">12.5° S</text>
</g>
<!-- x labels -->
<g font-size="42">
<text x="209" y="1268" textLength="143" lengthAdjust="spacingAndGlyphs">100° W</text>
<text x="472" y="1268" textLength="116" lengthAdjust="spacingAndGlyphs">95° W</text>
<text x="717" y="1268" textLength="118" lengthAdjust="spacingAndGlyphs">90° W</text>
<text x="965" y="1268" textLength="118" lengthAdjust="spacingAndGlyphs">85° W</text>
<text x="1213" y="1268" textLength="118" lengthAdjust="spacingAndGlyphs">80° W</text>
</g>
</svg>
</body></html>
